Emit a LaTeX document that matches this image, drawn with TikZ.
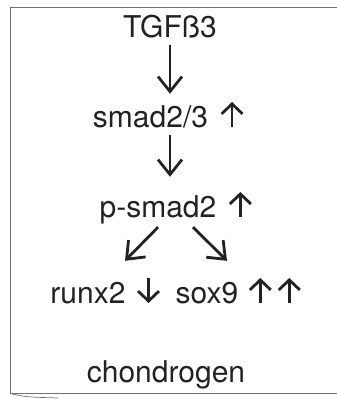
\documentclass[tikz,border=0pt]{standalone}
\usepackage{fontspec}
\setmainfont{TeX Gyre Heros}
\usetikzlibrary{arrows.meta,calc}
\definecolor{ink}{HTML}{222222}
\definecolor{frame}{HTML}{707070}
\tikzset{
  tinyarr/.style={draw=ink,line width=2.8pt,-{Straight Barb[length=10pt,width=21pt,line width=2.8pt]}}
}
\newcommand{\uparr}{\tikz[baseline=0pt,x=1pt,y=1pt]{\useasboundingbox (0,0) rectangle (24,25); \draw[tinyarr] (12,0) -- (12,25);}}
\newcommand{\dnarr}{\tikz[baseline=0pt,x=1pt,y=1pt]{\useasboundingbox (0,0) rectangle (24,25); \draw[tinyarr] (12,25) -- (12,0);}}
\begin{document}
\begin{tikzpicture}[x=1pt,y=-1pt,
  lbl/.style={anchor=base,inner sep=0pt,text=ink,font=\fontsize{30}{36}\selectfont,text height=22pt,text depth=7pt},
  flow/.style={draw=ink,line width=2.8pt,-{Straight Barb[length=15pt,width=24pt,line width=2.8pt]}},
  box/.style={draw=frame,line width=0.9pt}]
\useasboundingbox (0,0) rectangle (337,399);
% frame
\draw[box] (337,7) -- (10,7) -- (10,393) -- (337,393);
\draw[frame,line width=0.7pt] (10,393.5) .. controls (26,397) .. (58,398);
% nodes
\node[lbl] (tgf) at (170,37) {TGFß3};
\node[lbl] (smad) at (168.5,127) {smad2/3\hspace{12pt}\uparr};
\node[lbl] (psmad) at (176,217) {p-smad2\hspace{12pt}\uparr};
\node[lbl] (runx) at (105.5,303) {runx2\hspace{11pt}\dnarr};
\node[lbl] (sox) at (238.5,303) {sox9\hspace{10pt}\uparr\hspace{5pt}\uparr};
\node[lbl] (chon) at (166,382) {chondrogen};
% connectors
\draw[flow] ($(tgf.south)+(0,1)$) -- ($(tgf.south |- smad.north)+(0,-11)$);
\draw[flow] ($(smad.south -| tgf.south)+(0,1)$) -- ($(tgf.south |- psmad.north)+(0,-18)$);
\draw[flow] ($(psmad.south)+(-18,3)$) -- ($(runx.north)+(19.5,-20)$);
\draw[flow] ($(psmad.south)+(17,3)$) -- ($(sox.north)+(-11.5,-20)$);
\end{tikzpicture}
\end{document}
